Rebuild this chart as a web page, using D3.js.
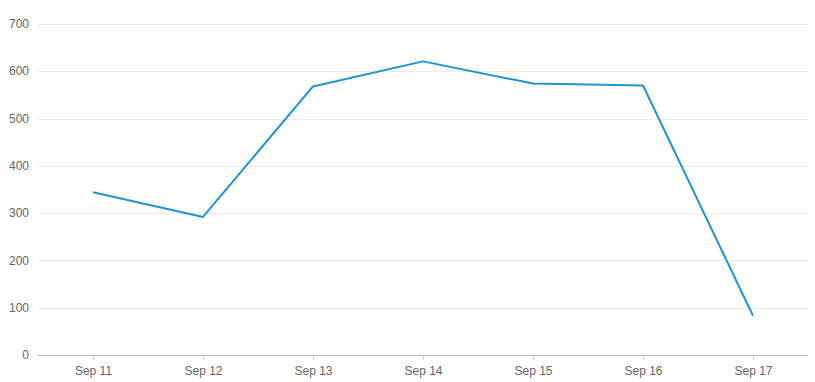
<!DOCTYPE html>
<html>
<head>
<meta charset="utf-8">
<script src="https://cdn.jsdelivr.net/npm/d3@7"></script>
<style>
  body { margin: 0; background: #fff; }
  svg { display: block; font-family: "Liberation Sans", Arial, sans-serif; }
</style>
</head>
<body>
<div id="chart"></div>
<script>
// chart data
const days = ['Sep 11', 'Sep 12', 'Sep 13', 'Sep 14', 'Sep 15', 'Sep 16', 'Sep 17'];
const counts = [344, 292, 568, 621, 574, 570, 83];
const yTicks = [0, 100, 200, 300, 400, 500, 600, 700];

const width = 815, height = 382;
const margin = { top: 24, right: 7, bottom: 27, left: 38 };

const svg = d3.select('#chart')
    .append('svg')
    .attr('width', width)
    .attr('height', height);

const x = d3.scalePoint()
    .domain(days)
    .range([margin.left, width - margin.right])
    .padding(0.5);

const y = d3.scaleLinear()
    .domain([0, 700])
    .range([height - margin.bottom, margin.top]);

// horizontal grid lines
svg.append('g')
    .selectAll('line')
    .data(yTicks.filter(d => d > 0))
    .enter()
    .append('line')
    .attr('x1', margin.left)
    .attr('x2', width - margin.right)
    .attr('y1', d => Math.round(y(d)) + 0.5)
    .attr('y2', d => Math.round(y(d)) + 0.5)
    .attr('stroke', '#ececec')
    .attr('stroke-width', 1);

// y labels
svg.append('g')
    .selectAll('text')
    .data(yTicks)
    .enter()
    .append('text')
    .attr('x', 29)
    .attr('y', d => y(d))
    .attr('dy', '0.35em')
    .attr('text-anchor', 'end')
    .attr('font-size', '12px')
    .attr('fill', '#666')
    .text(d => d);

// x axis
const xAxis = svg.append('g')
    .attr('transform', `translate(0,${Math.round(y(0)) + 0.5})`)
    .call(d3.axisBottom(x).tickSize(4).tickPadding(7).tickSizeOuter(0));

xAxis.select('.domain')
    .attr('d', `M${margin.left},0H${width - margin.right}`)
    .attr('stroke', '#b5b5b5');
xAxis.selectAll('.tick line').attr('stroke', '#c8c8c8');
xAxis.selectAll('.tick text')
    .attr('font-size', '12px')
    .attr('font-family', '"Liberation Sans", Arial, sans-serif')
    .attr('fill', '#666');

// line
const line = d3.line()
    .x((d, i) => x(days[i]))
    .y(d => y(d));

svg.append('path')
    .datum(counts)
    .attr('fill', 'none')
    .attr('stroke', '#1f94d2')
    .attr('stroke-width', 2)
    .attr('stroke-linejoin', 'round')
    .attr('d', line);
</script>
</body>
</html>
